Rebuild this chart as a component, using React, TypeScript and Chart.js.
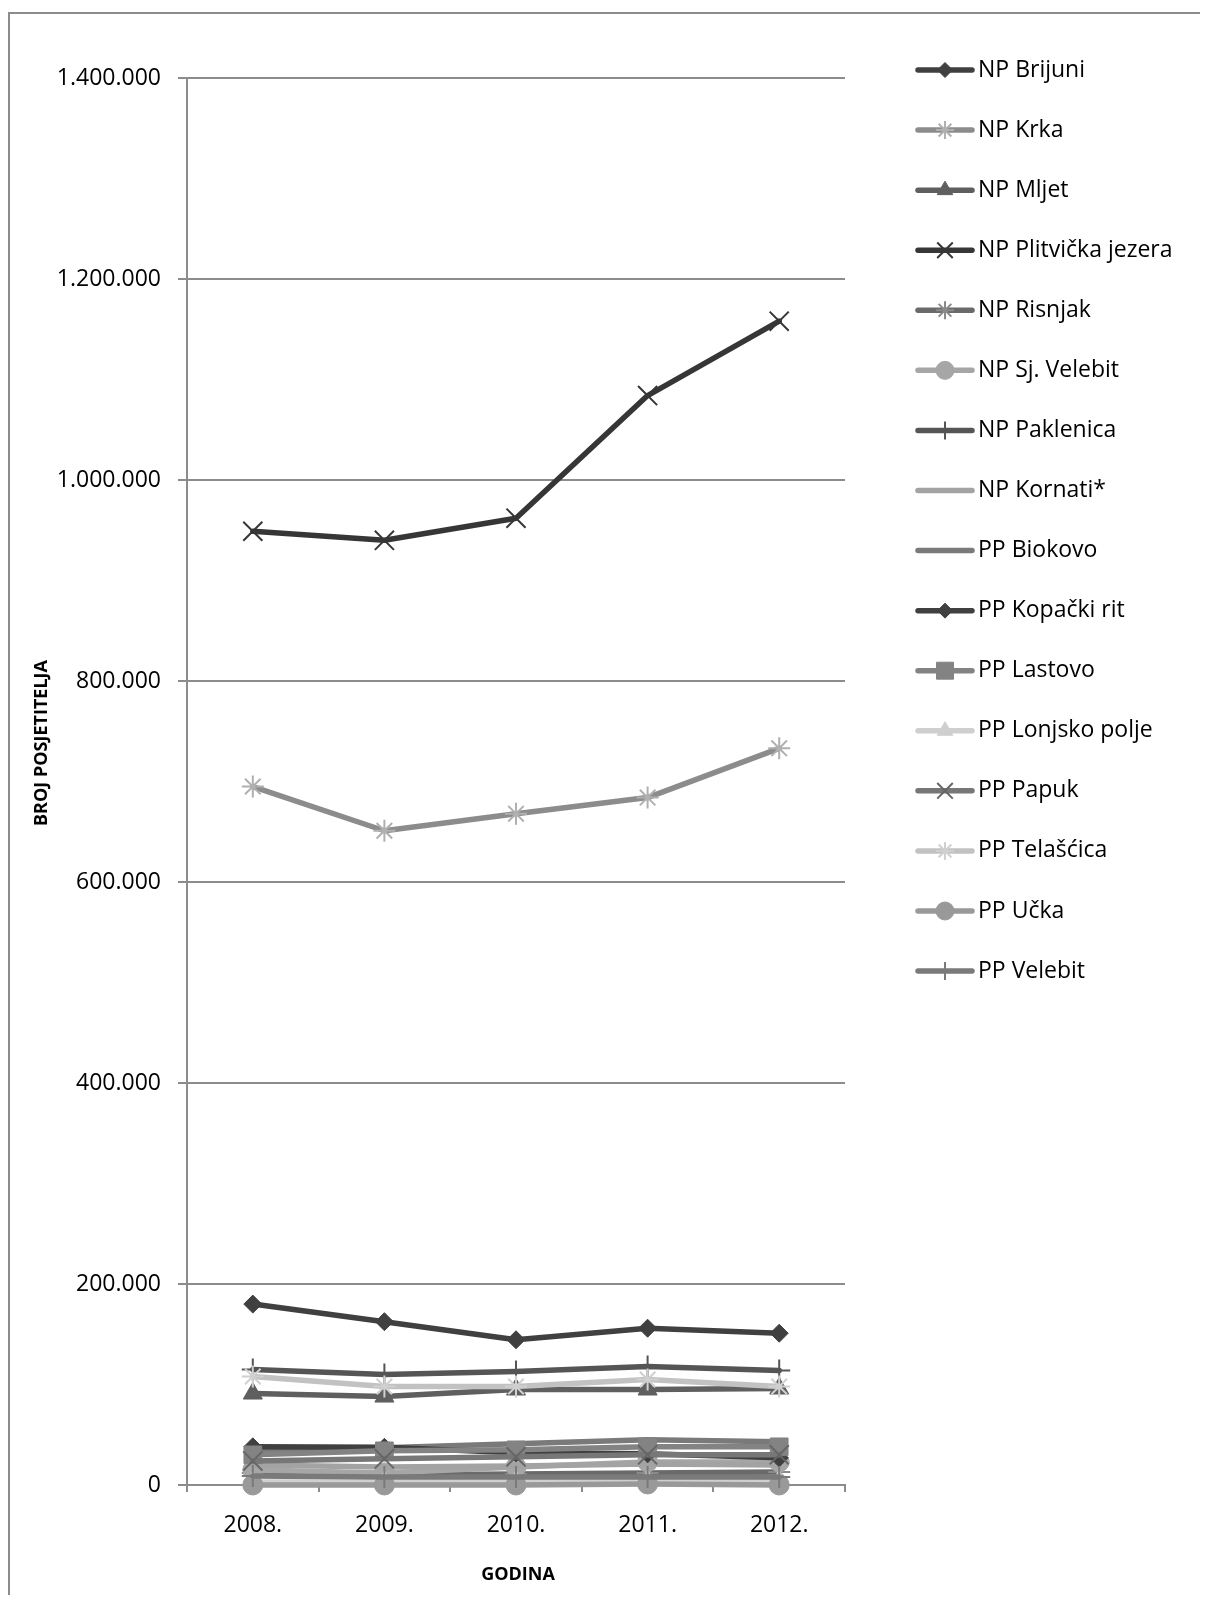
import React, { useEffect, useRef } from 'react';
import { Chart, registerables } from 'chart.js';
import { drawPoint } from 'chart.js/helpers';

Chart.register(...registerables);

const years = ['2008.', '2009.', '2010.', '2011.', '2012.'];
const yTicksMax = 1400000;
const yTickStep = 200000;
const xTitle = 'GODINA';
const yTitle = 'BROJ POSJETITELJA';

const seriesNames = [
  'NP Brijuni', 'NP Krka', 'NP Mljet', 'NP Plitvička jezera', 'NP Risnjak', 'NP Sj. Velebit',
  'NP Paklenica', 'NP Kornati*', 'PP Biokovo', 'PP Kopački rit', 'PP Lastovo', 'PP Lonjsko polje',
  'PP Papuk', 'PP Telašćica', 'PP Učka', 'PP Velebit',
];

const npBrijuni = [180000, 162500, 144500, 156000, 151000];
const npKrka = [695000, 651000, 668000, 684000, 733000];
const npMljet = [91000, 88000, 95000, 95000, 96000];
const npPlitvice = [949000, 940000, 962000, 1084000, 1158000];
const npRisnjak = [12000, 10000, 11000, 12000, 13000];
const npSjVelebit = [15000, 12000, 18000, 23000, 23000];
const npPaklenica = [115000, 110000, 113000, 118000, 114000];
const npKornati = [20000, 18000, 19000, 21000, 20000];
const ppBiokovo = [35000, 37000, 41000, 45000, 43000];
const ppKopacki = [38000, 37500, 32000, 31000, 27000];
const ppLastovo = [30000, 34000, 35000, 38000, 38000];
const ppLonjsko = [3000, 3000, 3000, 4000, 4000];
const ppPapuk = [24000, 26000, 28000, 30000, 30000];
const ppTelascica = [108000, 98000, 98000, 105000, 98000];
const ppUcka = [0, 0, 0, 1000, 0];
const ppVelebit = [9000, 8000, 8000, 8000, 8000];

const seriesValues = [
  npBrijuni, npKrka, npMljet, npPlitvice, npRisnjak, npSjVelebit, npPaklenica, npKornati,
  ppBiokovo, ppKopacki, ppLastovo, ppLonjsko, ppPapuk, ppTelascica, ppUcka, ppVelebit,
];

const lineColors = [
  '#404040', '#8c8c8c', '#5f5f5f', '#363636', '#6a6a6a', '#a6a6a6', '#555555', '#a3a3a3',
  '#7a7a7a', '#404040', '#838383', '#cfcfcf', '#777777', '#c2c2c2', '#999999', '#7a7a7a',
];
const markerColors = [
  '#404040', '#b0b0b0', '#5f5f5f', '#363636', '#8a8a8a', '#a6a6a6', '#555555', '#a3a3a3',
  '#7a7a7a', '#404040', '#838383', '#cfcfcf', '#666666', '#d0d0d0', '#999999', '#7a7a7a',
];
const markerStyles: any[] = [
  'rectRot', 'star', 'triangle', 'crossRot', 'star', 'circle', 'cross', false,
  false, 'rectRot', 'rect', 'triangle', 'crossRot', 'star', 'circle', 'cross',
];
const markerRadii = [9, 11, 11, 13.5, 11, 10, 11, 0, 0, 9, 12.5, 11, 13.5, 11, 10, 11];
const legendRadii = [7.5, 9, 9, 11, 9, 9, 9, 0, 0, 7.5, 12, 9, 11, 9, 9, 9];

const fmt = (v: number) => String(v).replace(/\B(?=(\d{3})+(?!\d))/g, '.');

const isStroke = (s: any) => s === 'star' || s === 'cross' || s === 'crossRot';

const decorPlugin = {
  id: 'decor',
  afterDraw(chart: any) {
    const ctx = chart.ctx as CanvasRenderingContext2D;
    ctx.save();
    // outer frame
    ctx.strokeStyle = '#8c8c8c';
    ctx.lineWidth = 2;
    ctx.beginPath();
    ctx.moveTo(1, chart.height);
    ctx.lineTo(1, 5);
    ctx.lineTo(chart.width, 5);
    ctx.stroke();

    // axis titles
    ctx.fillStyle = '#000';
    ctx.font = "bold 18px 'Open Sans', sans-serif";
    ctx.textAlign = 'center';
    ctx.textBaseline = 'middle';
    ctx.fillText(xTitle, 510, 1567);
    ctx.save();
    ctx.translate(34, 735);
    ctx.rotate(-Math.PI / 2);
    ctx.fillText(yTitle, 0, 0);
    ctx.restore();

    // legend
    const x0 = 910, x1 = 964, xm = 937, xt = 970;
    seriesNames.forEach((name, i) => {
      const y = 62 + i * 60.07;
      ctx.strokeStyle = lineColors[i];
      ctx.lineWidth = 5.5;
      ctx.lineCap = 'round';
      ctx.beginPath();
      ctx.moveTo(x0, y);
      ctx.lineTo(x1, y);
      ctx.stroke();
      const st = markerStyles[i];
      if (st) {
        ctx.fillStyle = markerColors[i];
        ctx.strokeStyle = markerColors[i];
        ctx.lineWidth = isStroke(st) ? 2 : 1;
        ctx.lineCap = 'butt';
        drawPoint(ctx, { pointStyle: st, rotation: 0, radius: legendRadii[i], borderWidth: ctx.lineWidth } as any, xm, y);
      }
      ctx.fillStyle = '#000';
      ctx.font = "23px 'Open Sans', sans-serif";
      ctx.textAlign = 'left';
      ctx.textBaseline = 'middle';
      ctx.fillText(name, xt, y);
    });
    ctx.restore();
  },
};

export default function App() {
  const ref = useRef<HTMLCanvasElement | null>(null);
  useEffect(() => {
    if (!ref.current) return;
    Chart.defaults.font.family = "'Open Sans', sans-serif";
    const n = seriesNames.length;
    const chart = new Chart(ref.current, {
      type: 'line',
      data: {
        labels: years,
        datasets: seriesNames.map((name, i) => ({
          label: name,
          data: seriesValues[i],
          borderColor: lineColors[i],
          backgroundColor: markerColors[i],
          borderWidth: 5.5,
          borderCapStyle: 'round' as const,
          borderJoinStyle: 'round' as const,
          pointStyle: markerStyles[i] || 'circle',
          pointRadius: markerStyles[i] ? markerRadii[i] : 0,
          pointBackgroundColor: markerColors[i],
          pointBorderColor: markerColors[i],
          pointBorderWidth: isStroke(markerStyles[i]) ? 2 : 1,
          tension: 0,
          fill: false,
          clip: false,
          order: n - i,
        })),
      },
      options: {
        responsive: false,
        animation: false,
        devicePixelRatio: 1,
        layout: { padding: { left: 0, top: 70, right: 355, bottom: 0 } },
        plugins: { legend: { display: false }, tooltip: { enabled: false } },
        scales: {
          x: {
            offset: true,
            ticks: { color: '#000', font: { size: 23 }, padding: 20 },
            grid: { offset: true, drawOnChartArea: false, drawTicks: true, tickLength: 7, color: '#8c8c8c', lineWidth: 2 },
            border: { color: '#8c8c8c', width: 2 },
            afterFit: (s: any) => { s.height = 110; },
          },
          y: {
            min: 0,
            max: yTicksMax,
            ticks: { stepSize: yTickStep, color: '#000', font: { size: 23 }, padding: 17, callback: (v: any) => fmt(Number(v)) },
            grid: { color: '#8c8c8c', lineWidth: 2, tickLength: 9, drawTicks: true },
            border: { color: '#8c8c8c', width: 2 },
            afterFit: (s: any) => { s.width = 179; },
          },
        },
      } as any,
      plugins: [decorPlugin],
    });
    return () => chart.destroy();
  }, []);
  return (
    <div style={{ width: 1192, height: 1587 }}>
      <canvas ref={ref} width={1192} height={1587} style={{ display: 'block', width: 1192, height: 1587 }} />
    </div>
  );
}
